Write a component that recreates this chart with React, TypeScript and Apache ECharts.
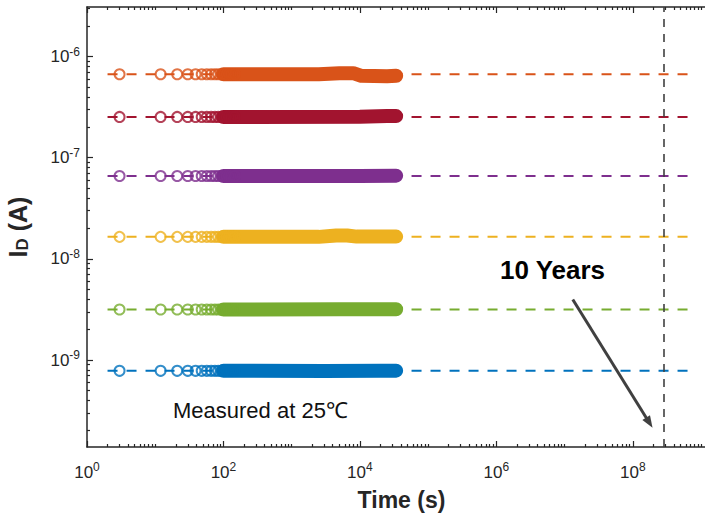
import React, { useEffect, useRef } from 'react';
import * as echarts from 'echarts';

// ---------- data ----------
const seriesNames = ['S1', 'S2', 'S3', 'S4', 'S5', 'S6'];
const seriesColors = ['#0072BD', '#77AC30', '#EDB120', '#7E2F8E', '#A2142F', '#D95319'];
// current level of the early (sparse) samples and of the extrapolated fit, A
const levels = [7.82e-10, 3.16e-9, 1.65e-8, 6.6e-8, 2.53e-7, 6.68e-7];
// time stamps of the individually visible early samples, s
const sparseTimes = [3, 12, 21, 30, 39, 48, 57, 66, 75, 84, 93, 102, 111, 120, 129, 138, 147];
// dense part of each record: [time s, current A]
const bandBlue = [[100, 7.82e-10], [3000, 7.8e-10], [20000, 7.85e-10], [34000, 7.85e-10]];
const bandGreen = [[100, 3.16e-9], [5000, 3.17e-9], [34000, 3.18e-9]];
const bandYellow = [[100, 1.65e-8], [2500, 1.65e-8], [4500, 1.7e-8], [6500, 1.7e-8], [9000, 1.66e-8], [34000, 1.66e-8]];
const bandPurple = [[100, 6.6e-8], [10000, 6.6e-8], [34000, 6.65e-8]];
const bandCrimson = [[100, 2.53e-7], [10000, 2.54e-7], [25000, 2.58e-7], [34000, 2.58e-7]];
const bandOrange = [[100, 6.68e-7], [2500, 6.7e-7], [5000, 6.85e-7], [8000, 6.85e-7], [10500, 6.45e-7], [25000, 6.38e-7], [34000, 6.45e-7]];
const bands = [bandBlue, bandGreen, bandYellow, bandPurple, bandCrimson, bandOrange];
// extrapolation (dashed) range, s
const fitStart = 2;
const fitEnd = 8e8;
// 10-year marker, s
const tenYears = 2.85e8;
// arrow [time s, current A]
const arrowFrom = [1.32e7, 3.97e-9];
const arrowTo = [1.75e8, 2.4e-10];
// axis ranges (decades)
const xMinDec = 0;
const xMaxDec = 9.22;
const yMinDec = -9.86;
const yMaxDec = -5.51;
const xLabelDecades = [0, 2, 4, 6, 8];
const yLabelDecades = [-9, -8, -7, -6];
const minorMultipliers = [2, 3, 4, 5, 6, 7, 8, 9];

const L = Math.log10;
const FONT = "'Liberation Sans', Arial, Helvetica, sans-serif";
const AX = '#262626';

function minorTicks(lo: number, hi: number): number[] {
  const out: number[] = [];
  for (let d = Math.floor(lo) - 1; d <= Math.ceil(hi); d++) {
    for (const m of minorMultipliers) {
      const v = d + L(m);
      if (v > lo && v < hi) out.push(v);
    }
  }
  return out;
}
const xMajor = [0, 2, 4, 6, 8];
const xMinor = [...minorTicks(xMinDec, xMaxDec), 1, 3, 5, 7, 9];
const yMajor = yLabelDecades;
const yMinor = minorTicks(yMinDec, yMaxDec);

const powLabel = (v: number) => `{b|10}{s|${Math.round(v)}}`;
const powRich = {
  b: { fontSize: 17, fontFamily: FONT, color: AX },
  s: { fontSize: 12, fontFamily: FONT, color: AX, verticalAlign: 'top', padding: [0, 0, 10, 0] },
};

export default function App() {
  const ref = useRef<HTMLDivElement>(null);
  useEffect(() => {
    if (!ref.current) return;
    const chart = echarts.init(ref.current, undefined, { renderer: 'svg' });

    const baseX = {
      type: 'value', min: xMinDec, max: xMaxDec,
      splitLine: { show: false },
      axisLine: { show: true, lineStyle: { color: AX, width: 1.5 } },
    };
    const baseY = {
      type: 'value', min: yMinDec, max: yMaxDec,
      splitLine: { show: false },
      axisLine: { show: true, lineStyle: { color: AX, width: 1.5 } },
    };

    const series: any[] = [];
    seriesNames.forEach((name, i) => {
      const c = seriesColors[i];
      // dashed extrapolation
      series.push({
        name: name + '-fit', type: 'line', silent: true, z: 2,
        data: [[L(fitStart), L(levels[i])], [L(fitEnd), L(levels[i])]],
        showSymbol: false, symbol: 'none',
        lineStyle: { color: c, width: 2, type: [10, 9] },
        ...(i === 0
          ? {
              markLine: {
                silent: true, symbol: 'none', animation: false,
                label: { show: false },
                lineStyle: { color: '#404040', width: 1.6, type: [8, 7] },
                data: [{ xAxis: L(tenYears) }],
              },
            }
          : {}),
      });
      // dense band
      series.push({
        name: name + '-band', type: 'line', z: 3,
        data: bands[i].map(([t, v]) => [L(t), L(v)]),
        showSymbol: false, symbol: 'none',
        lineStyle: { color: c, width: 14, cap: 'round', join: 'round' },
      });
      // open circles
      series.push({
        name: name, type: 'scatter', z: 4,
        data: sparseTimes.map((t) => [L(t), L(levels[i])]),
        symbol: 'circle', symbolSize: 10,
        itemStyle: { color: 'transparent', borderColor: c, borderWidth: 2 },
      });
    });
    // arrow
    series.push({
      name: 'arrow', type: 'line', data: [], z: 6,
      markLine: {
        silent: true, animation: false,
        symbol: ['none', 'triangle'], symbolSize: [9, 12],
        label: { show: false },
        lineStyle: { color: '#404040', width: 3, type: 'solid' },
        data: [[{ coord: [L(arrowFrom[0]), L(arrowFrom[1])] }, { coord: [L(arrowTo[0]), L(arrowTo[1])] }]],
      },
    });

    chart.setOption({
      animation: false,
      backgroundColor: '#ffffff',
      grid: { left: 87, top: 7, width: 629, height: 440, show: false, containLabel: false, outerBoundsMode: 'none' },
      xAxis: [
        {
          ...baseX, position: 'bottom',
          axisTick: { show: true, inside: true, length: 6, customValues: xMajor, lineStyle: { color: AX, width: 1.2 } },
          axisLabel: { show: true, customValues: xLabelDecades, formatter: powLabel, rich: powRich, margin: 14 },
          name: 'Time (s)', nameLocation: 'middle', nameGap: 41,
          nameTextStyle: { fontSize: 23, fontWeight: 'bold', fontFamily: FONT, color: AX },
        },
        {
          ...baseX, position: 'bottom', axisLine: { show: false },
          axisTick: { show: true, inside: true, length: 3, customValues: xMinor, lineStyle: { color: AX, width: 1.2 } },
          axisLabel: { show: false },
        },
        {
          ...baseX, position: 'top',
          axisTick: { show: true, inside: true, length: 6, customValues: xMajor, lineStyle: { color: AX, width: 1.2 } },
          axisLabel: { show: false },
        },
        {
          ...baseX, position: 'top', axisLine: { show: false },
          axisTick: { show: true, inside: true, length: 3, customValues: xMinor, lineStyle: { color: AX, width: 1.2 } },
          axisLabel: { show: false },
        },
      ],
      yAxis: [
        {
          ...baseY, position: 'left',
          axisTick: { show: true, inside: true, length: 6, customValues: yMajor, lineStyle: { color: AX, width: 1.2 } },
          axisLabel: { show: true, customValues: yLabelDecades, formatter: powLabel, rich: powRich, margin: 7 },
          name: '{i|I}{d|D}{i| (A)}', nameLocation: 'middle', nameGap: 56, nameRotate: 90,
          nameTextStyle: {
            rich: {
              i: { fontSize: 25, fontWeight: 'bold', fontFamily: FONT, color: AX },
              d: { fontSize: 17, fontWeight: 'bold', fontFamily: FONT, color: AX, verticalAlign: 'bottom', padding: [9, 0, 0, 0] },
            },
          },
        },
        {
          ...baseY, position: 'left', axisLine: { show: false },
          axisTick: { show: true, inside: true, length: 3, customValues: yMinor, lineStyle: { color: AX, width: 1.2 } },
          axisLabel: { show: false },
        },
      ],
      graphic: [
        {
          type: 'text', left: 500, top: 257, z: 100,
          style: { text: '10 Years', fontSize: 26, fontWeight: 'bold', fontFamily: FONT, fill: '#000' },
        },
        {
          type: 'text', left: 173, top: 399, z: 100,
          style: { text: 'Measured at 25℃', fontSize: 22, fontFamily: FONT, fill: '#111' },
        },
      ],
      series,
    });
    return () => chart.dispose();
  }, []);
  return <div ref={ref} style={{ width: 705, height: 518, position: 'absolute', left: 0, top: 0, background: '#fff' }} />;
}
